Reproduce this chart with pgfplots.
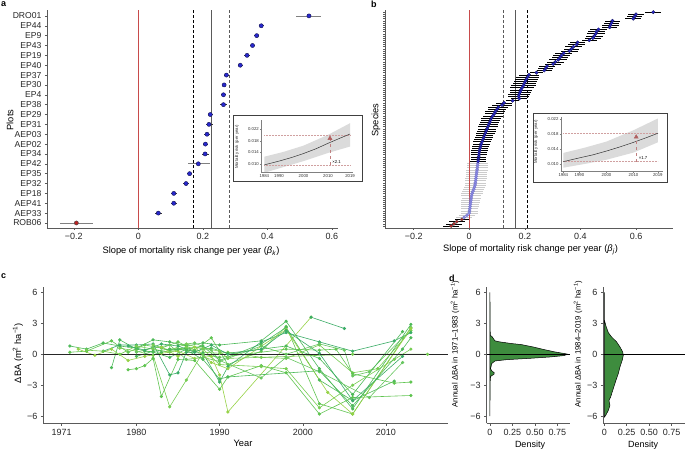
\documentclass[border=0pt]{standalone}
\usepackage{fontspec}
\setmainfont{Liberation Sans}
\usepackage{pgfplots}
\pgfplotsset{compat=1.18}
\definecolor{axgray}{RGB}{90,90,90}
\definecolor{ptblue}{RGB}{40,40,205}
\definecolor{ptnavy}{RGB}{20,20,80}
\definecolor{ptred}{RGB}{185,35,35}
\definecolor{ltblue}{RGB}{135,135,228}
\definecolor{redline}{RGB}{200,75,75}
\definecolor{inred}{RGB}{176,96,96}
\definecolor{dgreen}{RGB}{62,140,62}
\definecolor{ca}{RGB}{76,185,88}
\definecolor{cb}{RGB}{95,196,80}
\definecolor{cc}{RGB}{118,205,82}
\definecolor{cd}{RGB}{150,210,70}
\definecolor{ce}{RGB}{58,172,102}
\definecolor{cf}{RGB}{104,198,96}
\pgfplotsset{
  myaxis/.style={scale only axis, axis x line*=bottom, axis y line*=left,
    axis line style={axgray, line width=0.6pt, -}, tick style={axgray, line width=0.5pt},
    tick align=outside, major tick length=2.5pt,
    tick label style={font=\fontsize{9}{10}\selectfont, text=black!85}, scaled ticks=false},
  inaxis/.style={scale only axis, axis x line*=bottom, axis y line*=left,
    axis line style={gray, line width=0.4pt, -}, tick style={gray, line width=0.3pt},
    tick align=outside, major tick length=1pt, scaled ticks=false,
    tick label style={font=\fontsize{4.3}{5}\selectfont, text=black!80, inner sep=1pt}},
  cline/.style={mark=*, mark size=1.3pt, line width=0.6pt, mark options={draw=none}},
}
\begin{document}
\begin{tikzpicture}
\useasboundingbox (0,0) rectangle (685pt,450pt);

% ---------------- panel a ----------------
\begin{axis}[myaxis, at={(47pt,222pt)}, anchor=south west, width=291pt, height=218pt,
  xmin=-0.283, xmax=0.619, ymin=0.49, ymax=22.6,
  xtick={-0.2,0,0.2,0.4,0.6}, xticklabels={−0.2,0,0.2,0.4,0.6},
  ytick={1,...,22},
  yticklabels={ROB06,AEP33,AEP41,EP18,EP32,EP35,EP42,EP34,AEP02,AEP03,EP31,EP29,EP38,EP4,EP30,EP37,EP40,EP19,EP43,EP9,EP44,DRO01},
  yticklabel style={font=\fontsize{8.6}{9}\selectfont}, major tick length=2pt]
\addplot[redline, line width=0.7pt] coordinates {(0,0.49) (0,22.6)};
\addplot[black, dash pattern=on 3pt off 2pt, line width=0.6pt] coordinates {(0.170,0.49) (0.170,22.6)};
\addplot[axgray, line width=0.8pt] coordinates {(0.228,0.49) (0.228,22.6)};
\addplot[axgray, dash pattern=on 3pt off 2pt, line width=0.6pt] coordinates {(0.282,0.49) (0.282,22.6)};
\addplot[only marks, mark=*, mark size=2.1pt, mark options={fill=ptblue, draw=ptnavy, line width=0.4pt},
  error bars/.cd, x dir=both, x explicit, error bar style={gray, line width=0.7pt}, error mark=none]
  table[x=x, y=y, x error plus=ep, x error minus=em] {
  y x ep em
  22 0.529 0.038 0.039
  7 0.186 0.037 0.032
};
\addplot[only marks, mark=*, mark size=2.1pt, mark options={fill=ptblue, draw=ptnavy, line width=0.4pt},
  error bars/.cd, x dir=both, x explicit, error bar style={black!80, line width=0.7pt}, error mark=none]
  table[x=x, y=y, x error plus=ep, x error minus=em] {
  y x ep em
  21 0.381 0.008 0.008
  20 0.367 0.008 0.008
  19 0.354 0.008 0.008
  18 0.337 0.008 0.008
  17 0.316 0.008 0.008
  16 0.273 0.007 0.007
  15 0.266 0.007 0.007
  14 0.264 0.008 0.008
  13 0.264 0.012 0.012
  12 0.223 0.008 0.008
  11 0.219 0.012 0.010
  10 0.213 0.008 0.008
  9 0.208 0.007 0.007
  8 0.207 0.012 0.010
  6 0.159 0.007 0.007
  5 0.148 0.008 0.008
  4 0.110 0.010 0.010
  3 0.110 0.010 0.010
  2 0.062 0.012 0.010
};
\addplot[only marks, mark=*, mark size=2.1pt, mark options={fill=ptred, draw=black!70, line width=0.4pt},
  error bars/.cd, x dir=both, x explicit, error bar style={gray, line width=0.7pt}, error mark=none]
  table[x=x, y=y, x error plus=ep, x error minus=em] {
  y x ep em
  1 -0.192 0.053 0.052
};
\end{axis}

% ---------------- panel b ----------------
\begin{axis}[myaxis, at={(385pt,222pt)}, anchor=south west, width=288pt, height=218pt,
  xmin=-0.303, xmax=0.733, ymin=-0.93, ymax=100,
  xtick={-0.2,0,0.2,0.4,0.6}, xticklabels={−0.2,0,0.2,0.4,0.6},
  ytick={0,...,99}, yticklabels={}, major tick length=1.6pt]
\addplot[axgray, dash pattern=on 3pt off 2pt, line width=0.6pt] coordinates {(0.123,-0.93) (0.123,100)};
\addplot[axgray, line width=0.8pt] coordinates {(0.167,-0.93) (0.167,100)};
\addplot[black, dash pattern=on 3pt off 2pt, line width=0.6pt] coordinates {(0.209,-0.93) (0.209,100)};
% light (non-significant)
\addplot[only marks, mark=*, mark size=1.7pt, mark options={fill=ltblue, draw=ltblue!85!black, line width=0.2pt},
  error bars/.cd, x dir=both, x explicit, error bar style={gray!40, line width=0.55pt}, error mark=none]
  table[x=x, y=y, x error=e] {
  y x e
  29 0.031 0.038
  28 0.030 0.038
  27 0.029 0.038
  26 0.028 0.040
  25 0.027 0.038
  24 0.026 0.038
  23 0.025 0.038
  22 0.024 0.040
  21 0.023 0.038
  20 0.022 0.038
  19 0.021 0.038
  18 0.019 0.038
  17 0.016 0.038
  16 0.013 0.038
  15 0.010 0.038
  14 0.008 0.036
  13 0.007 0.034
  12 0.006 0.034
  11 0.005 0.034
  10 0.004 0.032
  9 0.003 0.032
  8 0.002 0.030
  7 0.001 0.030
  6 0.000 0.030
  5 -0.008 0.030
  4 -0.018 0.028
};
\addplot[redline, line width=0.7pt] coordinates {(0,-0.93) (0,100)};
% dark blue (significant positive)
\addplot[only marks, mark=*, mark size=1.7pt, mark options={fill=ptblue, draw=ptnavy, line width=0.3pt},
  error bars/.cd, x dir=both, x explicit, error bar style={black, line width=0.55pt}, error mark=none]
  table[x=x, y=y, x error=e] {
  y x e
  99 0.662 0.028
  98 0.600 0.028
  97 0.595 0.028
  96 0.590 0.028
  95 0.515 0.028
  94 0.512 0.028
  93 0.508 0.030
  92 0.505 0.028
  91 0.465 0.030
  90 0.458 0.030
  89 0.455 0.032
  88 0.450 0.030
  87 0.445 0.030
  86 0.432 0.028
  85 0.390 0.028
  84 0.386 0.030
  83 0.375 0.030
  82 0.368 0.028
  81 0.360 0.030
  80 0.340 0.030
  79 0.332 0.032
  78 0.326 0.030
  77 0.320 0.032
  76 0.310 0.032
  75 0.302 0.028
  74 0.280 0.028
  73 0.275 0.028
  72 0.270 0.028
  71 0.242 0.022
  70 0.215 0.036
  69 0.210 0.040
  68 0.206 0.042
  67 0.202 0.040
  66 0.198 0.042
  65 0.195 0.044
  64 0.190 0.042
  63 0.186 0.040
  62 0.183 0.038
  61 0.180 0.040
  60 0.178 0.038
  59 0.180 0.028
  58 0.156 0.022
  57 0.125 0.028
  56 0.118 0.036
  55 0.105 0.036
  54 0.100 0.034
  53 0.094 0.036
  52 0.090 0.034
  51 0.085 0.036
  50 0.080 0.036
  49 0.077 0.034
  48 0.074 0.034
  47 0.070 0.034
  46 0.067 0.036
  45 0.064 0.034
  44 0.061 0.034
  43 0.058 0.034
  42 0.055 0.032
  41 0.052 0.032
  40 0.049 0.032
  39 0.046 0.032
  38 0.043 0.030
  37 0.041 0.030
  36 0.039 0.030
  35 0.037 0.030
  34 0.036 0.028
  33 0.035 0.028
  32 0.034 0.028
  31 0.033 0.028
  30 0.032 0.028
};
% red (significant negative)
\addplot[only marks, mark=*, mark size=1.7pt, mark options={fill=ptred, draw=black!70, line width=0.3pt},
  error bars/.cd, x dir=both, x explicit, error bar style={black, line width=0.55pt}, error mark=none]
  table[x=x, y=y, x error=e] {
  y x e
  3 -0.027 0.026
  2 -0.045 0.028
  1 -0.055 0.028
  0 -0.065 0.028
};
\end{axis}

% ---------------- inset a ----------------
\draw[black!75, line width=0.9pt, fill=white] (233pt,335pt) rectangle (362pt,269pt);
\begin{axis}[inaxis, at={(261pt,278pt)}, anchor=south west, width=91.5pt, height=52pt,
  xmin=1982.65, xmax=2020, ymin=0.00726, ymax=0.0251,
  xtick={1984,1990,2000,2010,2019}, xticklabels={1984,1990,2000,2010,2019},
  ytick={0.010,0.014,0.018,0.022}, yticklabels={0.010,0.014,0.018,0.022}]
\addplot[fill=gray!28, draw=none] coordinates {(1984,0.0070) (1992,0.0090) (2000,0.0110) (2010,0.0138) (2019,0.0160) (2019,0.0240) (2010,0.0200) (2000,0.0163) (1992,0.0142) (1984,0.0125)} --cycle;
\addplot[inred!60, densely dotted, line width=0.5pt] coordinates {(1984,0.0199) (2019,0.0199)};
\addplot[inred!60, densely dotted, line width=0.5pt] coordinates {(1984,0.0097) (2019,0.0097)};
\addplot[black!80, line width=0.5pt] coordinates {(1984,0.0097) (1990,0.0110) (1995,0.0122) (2000,0.0136) (2005,0.0152) (2010,0.0171) (2015,0.0189) (2019,0.0203)};
\addplot[inred!80, dashed, line width=0.5pt] coordinates {(2010.8,0.0097) (2010.8,0.0185)};
\addplot[only marks, mark=triangle*, mark size=2.4pt, mark options={fill=inred, draw=inred}] coordinates {(2010.8,0.0188)};
\node[anchor=west, font=\fontsize{4.3}{5}\selectfont, inner sep=1pt] at (axis cs:2011.3,0.0108) {×2.1};
\end{axis}
\node[rotate=90, font=\fontsize{4.3}{5}\selectfont, text=black!80] at (237pt,303pt) {Mortality risk (per year)};

% ---------------- inset b ----------------
\draw[black!75, line width=0.9pt, fill=white] (533pt,337pt) rectangle (667pt,268pt);
\begin{axis}[inaxis, at={(560.7pt,278.3pt)}, anchor=south west, width=102.5pt, height=54.7pt,
  xmin=1983.04, xmax=2021, ymin=0.00804, ymax=0.0225,
  xtick={1984,1990,2000,2010,2019}, xticklabels={1984,1990,2000,2010,2019},
  ytick={0.010,0.014,0.018,0.022}, yticklabels={0.010,0.014,0.018,0.022}]
\addplot[fill=gray!28, draw=none] coordinates {(1984,0.0091) (1992,0.0101) (2000,0.0112) (2010,0.0131) (2019,0.0158) (2019,0.0221) (2010,0.0190) (2000,0.0160) (1992,0.0144) (1984,0.0130)} --cycle;
\addplot[inred!60, densely dotted, line width=0.5pt] coordinates {(1984,0.0181) (2019,0.0181)};
\addplot[inred!60, densely dotted, line width=0.5pt] coordinates {(1984,0.0107) (2019,0.0107)};
\addplot[black!80, line width=0.5pt] coordinates {(1984,0.0107) (1990,0.0117) (1995,0.0125) (2000,0.0135) (2005,0.0146) (2010,0.0158) (2015,0.0171) (2019,0.0182)};
\addplot[inred!80, dashed, line width=0.5pt] coordinates {(2011,0.0107) (2011,0.0169)};
\addplot[only marks, mark=triangle*, mark size=2.4pt, mark options={fill=inred, draw=inred}] coordinates {(2011,0.0172)};
\node[anchor=west, font=\fontsize{4.3}{5}\selectfont, inner sep=1pt] at (axis cs:2011.5,0.0117) {×1.7};
\end{axis}
\node[rotate=90, font=\fontsize{4.3}{5}\selectfont, text=black!80] at (536pt,308pt) {Mortality risk (per year)};

% ---------------- panel c ----------------
\begin{axis}[myaxis, at={(43.3pt,26.7pt)}, anchor=south west, width=405pt, height=136pt,
  xmin=1968.8, xmax=2017.5, ymin=-6.7, ymax=6.5,
  xtick={1971,1980,1990,2000,2010}, xticklabels={1971,1980,1990,2000,2010},
  ytick={-6,-3,0,3,6}, yticklabels={−6,−3,0,3,6}]
\addplot[cline, ca] coordinates {(1972,0.8)(1974,0.5)(1976,1.1)(1978,0.8)(1980,0.6)(1982,1.4)(1984,1.2)(1986,0.8)(1988,1.1)(1990,0.9)(1995,1.3)(1998,3.2)(2002,-1.4)(2006,-5.3)(2013,2.9)};
\addplot[cline, cb] coordinates {(1972,0.2)(1974,0.3)(1977,1.3)(1979,0.2)(1981,0.9)(1983,0.6)(1985,1.2)(1987,0.4)(1989,1.6)(1991,-1.0)(1995,0.3)(1998,2.7)(2002,-4.8)(2006,-5.8)(2013,2.6)};
\addplot[cline, cd] coordinates {(1973,0.5)(1975,-0.1)(1977,0.5)(1979,-0.6)(1981,-0.2)(1983,0.1)(1985,0.3)(1987,-0.4)(1989,-0.2)(1990,-2.0)(1991,-5.6)(2001,3.6)};
\addplot[cline, ce] coordinates {(2001,3.6)(2005,2.5)};
\addplot[cline, ca] coordinates {(1977,-1.3)(1978,1.4)(1980,0.5)(1982,0.2)(1984,-0.3)(1986,0.5)(1988,0.8)(1990,-0.6)(1995,1.0)(1998,2.6)(2002,-2.5)(2006,-4.5)(2011,-2.6)};
\addplot[cline, cb] coordinates {(1979,-1.5)(1980,-1.4)(1981,-1.1)(1982,-0.4)(1983,-4.1)(1985,-0.5)(1987,-0.6)(1990,-3.4)(1991,-2.2)(1995,-1.1)(1998,-1.8)(2002,-5.8)(2006,-4.2)(2013,-4.0)};
\addplot[cline, cc] coordinates {(1978,0.6)(1980,0.3)(1982,-0.1)(1984,-5.1)(1986,-2.5)(1988,0.2)(1990,0.1)(1991,0.2)(1995,-0.3)(1998,-0.4)(2002,0.9)(2006,-1.8)(2009,-1.4)(2013,2.3)};
\addplot[cline, ce] coordinates {(1976,0.3)(1978,0.9)(1980,0.9)(1982,1.0)(1984,-2.0)(1985,-1.8)(1986,0.2)(1988,0.1)(1990,-2.7)(1991,-1.2)(1995,1.2)(1998,2.1)(2002,1.2)(2006,0.3)(2011,1.3)(2013,2.1)};
\addplot[cline, cf] coordinates {(1980,0.2)(1982,0.6)(1984,0.9)(1986,-0.5)(1988,-0.3)(1990,-0.7)(1995,0.8)(1998,0.0)(2002,1.0)(2005,0.4)(2006,-2.1)(2008,-1.7)(2012,1.6)};
\addplot[cline, ca] coordinates {(1981,0.3)(1983,0.2)(1985,0.5)(1987,0.3)(1989,0.6)(1991,0.1)(1998,0.8)(2002,-0.4)(2006,-3.9)(2012,2.2)};
\addplot[cline, cc] coordinates {(1982,0.9)(1984,0.4)(1986,1.0)(1988,0.5)(1990,-1.0)(1995,-1.2)(1998,-1.4)(2002,-5.2)(2006,-3.0)(2011,-0.5)(2013,0.5)};
\addplot[cline, cd] coordinates {(1983,0.7)(1985,-0.2)(1987,0.7)(1989,-0.8)(1991,-1.4)(1998,2.4)(2003,-3.7)(2006,-5.8)(2013,2.5)};
\addplot[cline, cb] coordinates {(1984,0.5)(1986,0.6)(1988,0.0)(1990,-0.3)(1998,0.5)(2002,0.4)(2004,0.5)(2006,-1.9)(2011,-2.8)(2013,-2.7)};
\addplot[cline, cf] coordinates {(1985,0.9)(1987,1.1)(1989,0.4)(1990,-0.6)(1995,-2.3)(1998,-0.3)(2002,-1.7)(2008,-4.2)(2012,-0.8)};
\addplot[cline, cc] coordinates {(1974,0.4)(1976,0.3)(1978,0.0)(1980,0.8)(1982,0.5)(1984,0.2)(1986,0.7)(1988,0.6)(1990,0.3)(1991,-0.4)(2006,0.0)(2015,0.0)};
\addplot[cline, ce] coordinates {(1979,0.8)(1981,0.4)(1983,1.0)(1985,0.8)(1987,0.2)(1989,0.9)(1991,0.0)(1995,0.5)(1998,2.3)(2002,0.1)(2006,-4.5)(2012,-0.2)};
\addplot[cline, ca] coordinates {(1980,-0.2)(1982,0.3)(1984,0.5)(1986,0.4)(1988,-0.5)(1990,-2.4)(1991,-2.2)(2002,-1.6)(2006,-5.0)(2012,0.5)(2013,1.6)};
\addplot[black!85, line width=0.6pt] coordinates {(1968.8,0) (2017.5,0)};
\end{axis}

% ---------------- panel d ----------------
\begin{axis}[myaxis, at={(486.7pt,26.7pt)}, anchor=south west, width=83.3pt, height=136pt,
  xmin=-0.036, xmax=0.89, ymin=-6.7, ymax=6.5,
  xtick={0,0.25,0.5,0.75}, xticklabels={0,0.25,0.50,0.75},
  ytick={-6,-3,0,3,6}, yticklabels={−6,−3,0,3,6}]
\addplot[fill=dgreen, draw=black, line width=0.5pt] coordinates {
 (0,6.0) (0.002,3.0) (0.004,1.8) (0.02,1.75) (0.056,1.3) (0.11,1.2) (0.24,1.04) (0.35,0.94)
 (0.48,0.71) (0.59,0.48) (0.72,0.23) (0.835,0.06) (0.866,0.0) (0.82,-0.13) (0.67,-0.26)
 (0.45,-0.39) (0.19,-0.52) (0.056,-0.65) (0.02,-0.9) (0.007,-1.39) (0.02,-1.6) (0.048,-1.8)
 (0.045,-1.94) (0.01,-2.13) (0.004,-2.35) (0.001,-3.5) (0,-6.0)} --cycle;
\addplot[black, line width=0.6pt] coordinates {(-0.036,0) (0.89,0)};
\end{axis}
\begin{axis}[myaxis, at={(603.3pt,26.7pt)}, anchor=south west, width=81.7pt, height=136pt,
  xmin=-0.011, xmax=0.9, ymin=-6.7, ymax=6.5,
  xtick={0,0.25,0.5,0.75}, xticklabels={0,0.25,0.50,0.75},
  ytick={-6,-3,0,3,6}, yticklabels={−6,−3,0,3,6}]
\addplot[fill=dgreen, draw=black, line width=0.5pt] coordinates {
 (0,6.0) (0.002,3.3) (0.02,2.7) (0.045,2.1) (0.08,1.69) (0.137,1.2) (0.175,0.71) (0.205,0.23)
 (0.212,-0.1) (0.2,-0.58) (0.175,-1.23) (0.156,-1.88) (0.13,-2.53) (0.1,-3.34) (0.07,-4.16)
 (0.052,-4.48) (0.063,-4.97) (0.045,-5.45) (0.015,-5.94) (0,-6.1)} --cycle;
\addplot[black, line width=0.6pt] coordinates {(-0.011,0) (0.9,0)};
\end{axis}

% ---------------- labels ----------------
\node[anchor=north west, inner sep=0pt, font=\bfseries\fontsize{9}{10}\selectfont] at (1pt,449pt) {a};
\node[anchor=north west, inner sep=0pt, font=\bfseries\fontsize{9}{10}\selectfont] at (371pt,449pt) {b};
\node[anchor=north west, inner sep=0pt, font=\bfseries\fontsize{9}{10}\selectfont] at (1pt,177pt) {c};
\node[anchor=north west, inner sep=0pt, font=\bfseries\fontsize{9}{10}\selectfont] at (449pt,175pt) {d};
\node[rotate=90, font=\fontsize{9.3}{10}\selectfont] at (10pt,330pt) {Plots};
\node[rotate=90, font=\fontsize{9.3}{10}\selectfont] at (376pt,330pt) {Species};
\node[font=\fontsize{9.3}{10}\selectfont] at (191pt,199pt) {Slope of mortality risk change per year (\textit{β}\textsubscript{\textit{k}})};
\node[font=\fontsize{9.3}{10}\selectfont] at (530.5pt,200pt) {Slope of mortality risk change per year (\textit{β}\textsubscript{\textit{j}})};
\node[rotate=90, font=\fontsize{9.3}{10}\selectfont] at (18pt,97pt) {ΔBA (m\textsuperscript{2} ha\textsuperscript{−1})};
\node[font=\fontsize{9.3}{10}\selectfont] at (243pt,7pt) {Year};
\node[rotate=90, font=\fontsize{7.8}{9}\selectfont] at (455pt,106pt) {Annual ΔBA in 1971–1983 (m\textsuperscript{2} ha\textsuperscript{−1})};
\node[rotate=90, font=\fontsize{7.8}{9}\selectfont] at (578pt,106pt) {Annual ΔBA in 1984–2019 (m\textsuperscript{2} ha\textsuperscript{−1})};
\node[font=\fontsize{9}{10}\selectfont] at (530pt,5pt) {Density};
\node[font=\fontsize{9}{10}\selectfont] at (643pt,5pt) {Density};
\end{tikzpicture}
\end{document}
